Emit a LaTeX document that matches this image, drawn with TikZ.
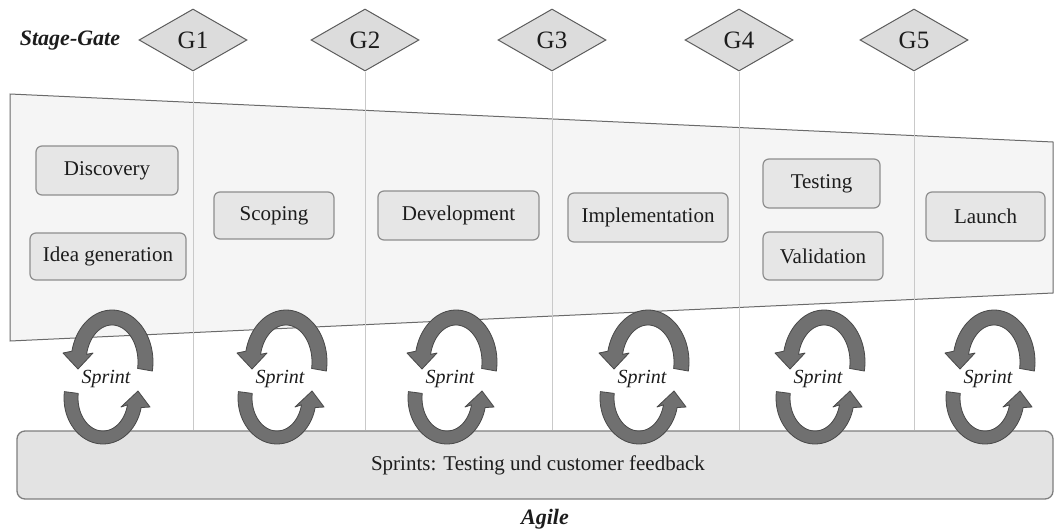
\documentclass[tikz,border=0pt]{standalone}
\usepackage{fontspec}
\setmainfont{Liberation Serif}
\usetikzlibrary{shapes.geometric}

\definecolor{ink}{HTML}{1C1C1C}
\definecolor{gatefill}{HTML}{DCDCDC}
\definecolor{gatedraw}{HTML}{5E5E5E}
\definecolor{funnelfill}{HTML}{F5F5F5}
\definecolor{funneldraw}{HTML}{6A6A6A}
\definecolor{boxfill}{HTML}{E6E6E6}
\definecolor{boxdraw}{HTML}{8E8E8E}
\definecolor{barfill}{HTML}{E3E3E3}
\definecolor{bardraw}{HTML}{7E7E7E}
\definecolor{gateline}{HTML}{C9C9C9}
\definecolor{loopfill}{HTML}{707070}
\definecolor{loopdraw}{HTML}{484848}

\tikzset{
  gate/.style={diamond, draw=gatedraw, fill=gatefill, line width=1pt,
    minimum width=108pt, minimum height=62pt, inner sep=0pt,
    text=ink, font=\fontsize{25}{28}\selectfont},
  phase/.style={draw=boxdraw, fill=boxfill, line width=1.2pt, rounded corners=6pt,
    inner sep=0pt, text=ink, font=\fontsize{21}{24}\selectfont},
  gaterule/.style={draw=gateline, line width=1pt},
  sprintlabel/.style={text=ink, inner sep=0pt, font=\fontsize{20}{22}\selectfont\itshape},
  loop/.style={fill=loopfill, draw=loopdraw, line width=0.8pt, line join=round},
  heading/.style={text=ink, inner sep=0pt, font=\fontsize{22}{24}\selectfont\bfseries\itshape}
}

\begin{document}
\begin{tikzpicture}[x=1pt, y=-1pt]
\useasboundingbox (0,0) rectangle (1056,530);
\fill[white] (0,0) rectangle (1056,530);

% funnel of the stage-gate phases
\filldraw[fill=funnelfill, draw=funneldraw, line width=1pt]
  (10,94) -- (1053,142) -- (1053,293) -- (10,341) -- cycle;

% agile bar
\node[draw=bardraw, fill=barfill, line width=1.3pt, rounded corners=8pt,
      minimum width=1036pt, minimum height=68pt, inner sep=0pt,
      text=ink, font=\fontsize{21}{24}\selectfont] (bar) at (535,465)
      {\hspace*{6pt}Sprints: Testing und customer feedback};

% gates
\node[heading] (sg) at (70,41) {Stage-Gate};
\node[gate] (g1) at (193,40) {G1};
\node[gate] (g2) at (365,40) {G2};
\node[gate] (g3) at (552,40) {G3};
\node[gate] (g4) at (739,40) {G4};
\node[gate] (g5) at (914,40) {G5};

\foreach \g in {g1,g2,g3,g4,g5}
  \draw[gaterule] (\g.south) -- (\g.south |- bar.north);

% phases
\node[phase, minimum width=142pt, minimum height=49pt] (disc) at (107,170.5) {Discovery};
\node[phase, minimum width=156pt, minimum height=47pt] (idea) at (108,256.5) {Idea generation};
\node[phase, minimum width=120pt, minimum height=47pt] (scop) at (274,215.5) {Scoping};
\node[phase, minimum width=161pt, minimum height=49pt] (devl) at (458.5,215.5) {Development};
\node[phase, minimum width=160pt, minimum height=49pt] (impl) at (648,217.5) {Implementation};
\node[phase, minimum width=117pt, minimum height=49pt] (test) at (821.5,183.5) {Testing};
\node[phase, minimum width=120pt, minimum height=48pt] (vali) at (823,256) {Validation};
\node[phase, minimum width=119pt, minimum height=49pt] (laun) at (985.5,216.5) {Launch};

% sprint loops
\foreach \cx/\i in {106/1,280/2,450/3,642/4,818/5,988/6}{
  % upper half, turning left and pointing down
  \filldraw[loop]
    plot[domain=10:-168, samples=40, variable=\t] ({\cx+6+41*cos(\t)},{362+52*sin(\t)})
    -- ({\cx-43},353) -- ({\cx-28},369) -- ({\cx-13},353)
    -- plot[domain=-168:10, samples=40, variable=\t] ({\cx+6+26*cos(\t)},{362+37*sin(\t)})
    -- cycle;
  % lower half, turning right and pointing up
  \filldraw[loop]
    plot[domain=188:12, samples=40, variable=\t] ({\cx-3+39*cos(\t)},{398+46*sin(\t)})
    -- ({\cx+44},407) -- ({\cx+32},391) -- ({\cx+15},407)
    -- plot[domain=12:188, samples=40, variable=\t] ({\cx-3+25*cos(\t)},{398+33*sin(\t)})
    -- cycle;
  \node[sprintlabel] (sp\i) at (\cx,379) {Sprint};
}

\node[heading] (agile) at (545,519) {Agile};
\end{tikzpicture}
\end{document}
